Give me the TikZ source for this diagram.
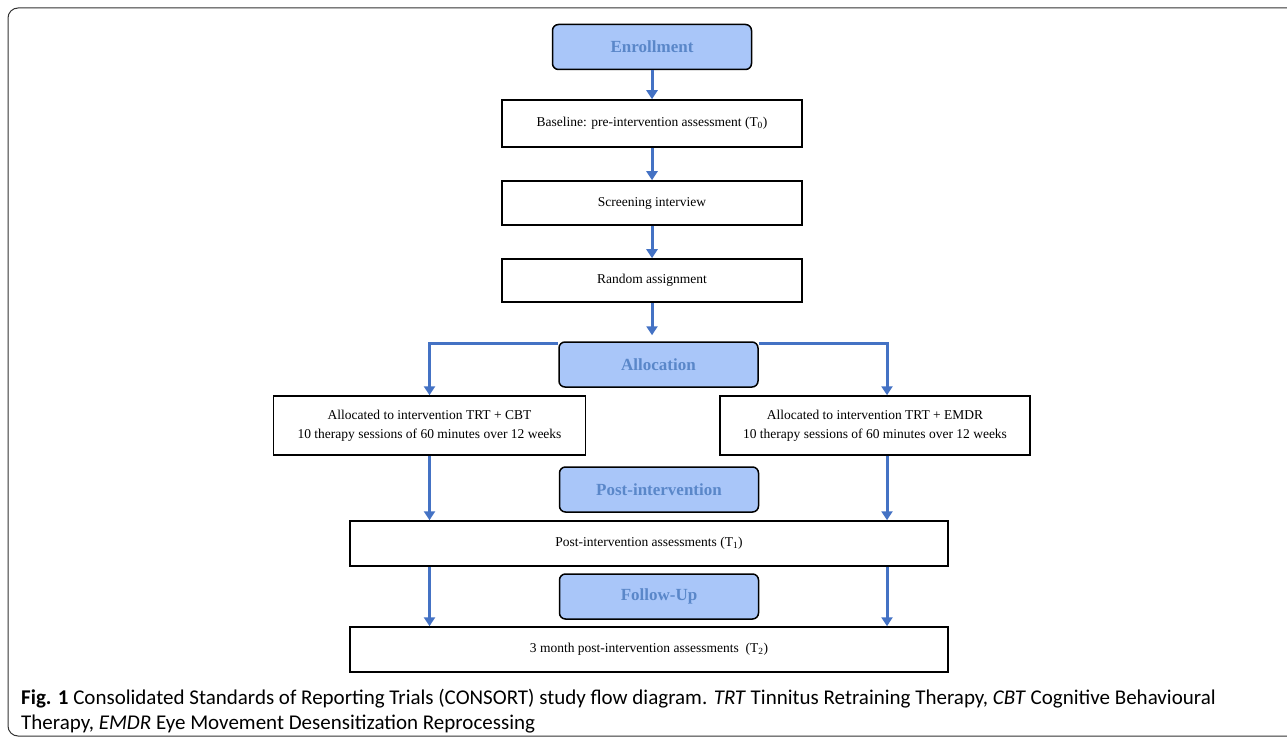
\documentclass[tikz,border=0pt]{standalone}
\usepackage{fontspec}
\setmainfont{Liberation Serif}
\newfontfamily\capfont{Carlito}
\usetikzlibrary{arrows.meta,calc}

\definecolor{stagefill}{HTML}{A9C6F9}
\definecolor{stagetext}{HTML}{5A87C9}
\definecolor{flowblue}{HTML}{4472C4}

\begin{document}
\begin{tikzpicture}[x=1pt,y=-1pt,
  stage/.style={draw=black,line width=1.5pt,rounded corners=6pt,fill=stagefill,text=stagetext,
    font=\fontsize{17}{20}\selectfont\bfseries,minimum width=199pt,minimum height=45pt,inner sep=0pt},
  box/.style={draw=black,line width=1.5pt,font=\fontsize{13.5}{19}\selectfont,align=center,inner sep=0pt},
  arr/.style={draw=flowblue,line width=3pt,-{Triangle[width=11pt,length=9pt]}}]
\useasboundingbox (0,0) rectangle (1287,743);
% outer frame
\draw[black!80,line width=1pt,rounded corners=10pt] (8,8) rectangle (1310,736);

% stages and boxes
\node[stage] (enroll) at (652,47) {Enrollment};
\node[box,minimum width=300pt,minimum height=47pt] (baseline) at (652,123.5)
  {Baseline: pre-intervention assessment (T\textsubscript{0})};
\node[box,minimum width=300pt,minimum height=44pt] (screen) at (652,203) {Screening interview};
\node[box,minimum width=300pt,minimum height=43pt] (random) at (652,280.5) {Random assignment};
\node[stage] (alloc) at (658.5,364.5) {Allocation};
\node[box,minimum width=312pt,minimum height=59pt] (trtcbt) at (429.5,425.5)
  {Allocated to intervention TRT + CBT\\10 therapy sessions of 60 minutes over 12 weeks};
\node[box,minimum width=310pt,minimum height=59pt] (trtemdr) at (875,425.5)
  {Allocated to intervention TRT + EMDR\\10 therapy sessions of 60 minutes over 12 weeks};
\node[stage] (post) at (659,489.5) {Post-intervention};
\node[box,minimum width=598pt,minimum height=45pt] (postass) at (649,543.5)
  {Post-intervention assessments (T\textsubscript{1})};
\node[stage] (follow) at (659,596.5) {Follow-Up};
\node[box,minimum width=598pt,minimum height=45pt] (threemonth) at (649,649.5)
  {3 month post-intervention assessments\ \ (T\textsubscript{2})};

% lanes
\coordinate (leftlane) at (trtcbt.south);
\coordinate (rightlane) at ([xshift=12pt]trtemdr.south);

% arrows
\draw[arr] (enroll) -- (baseline);
\draw[arr] (baseline) -- (screen);
\draw[arr] (screen) -- (random);
\draw[arr,shorten >=6pt] (random.south) -- (random.south |- alloc.north);
\draw[arr] ([yshift=-2.5pt]alloc.north west) -| (trtcbt.north);
\draw[arr] ([yshift=-2.5pt]alloc.north east) -| (rightlane |- trtemdr.north);
\draw[arr] (leftlane) -- (leftlane |- postass.north);
\draw[arr] (rightlane) -- (rightlane |- postass.north);
\draw[arr] (leftlane |- postass.south) -- (leftlane |- threemonth.north);
\draw[arr] (rightlane |- postass.south) -- (rightlane |- threemonth.north);

% caption
\node[anchor=west,align=left,inner sep=0pt,font=\capfont\fontsize{21}{25}\selectfont] (caption) at (21,711)
  {\textbf{Fig. 1} Consolidated Standards of Reporting Trials (CONSORT) study flow diagram. \textit{TRT} Tinnitus Retraining Therapy, \textit{CBT} Cognitive Behavioural\\
   Therapy, \textit{EMDR} Eye Movement Desensitization Reprocessing};
\end{tikzpicture}
\end{document}
